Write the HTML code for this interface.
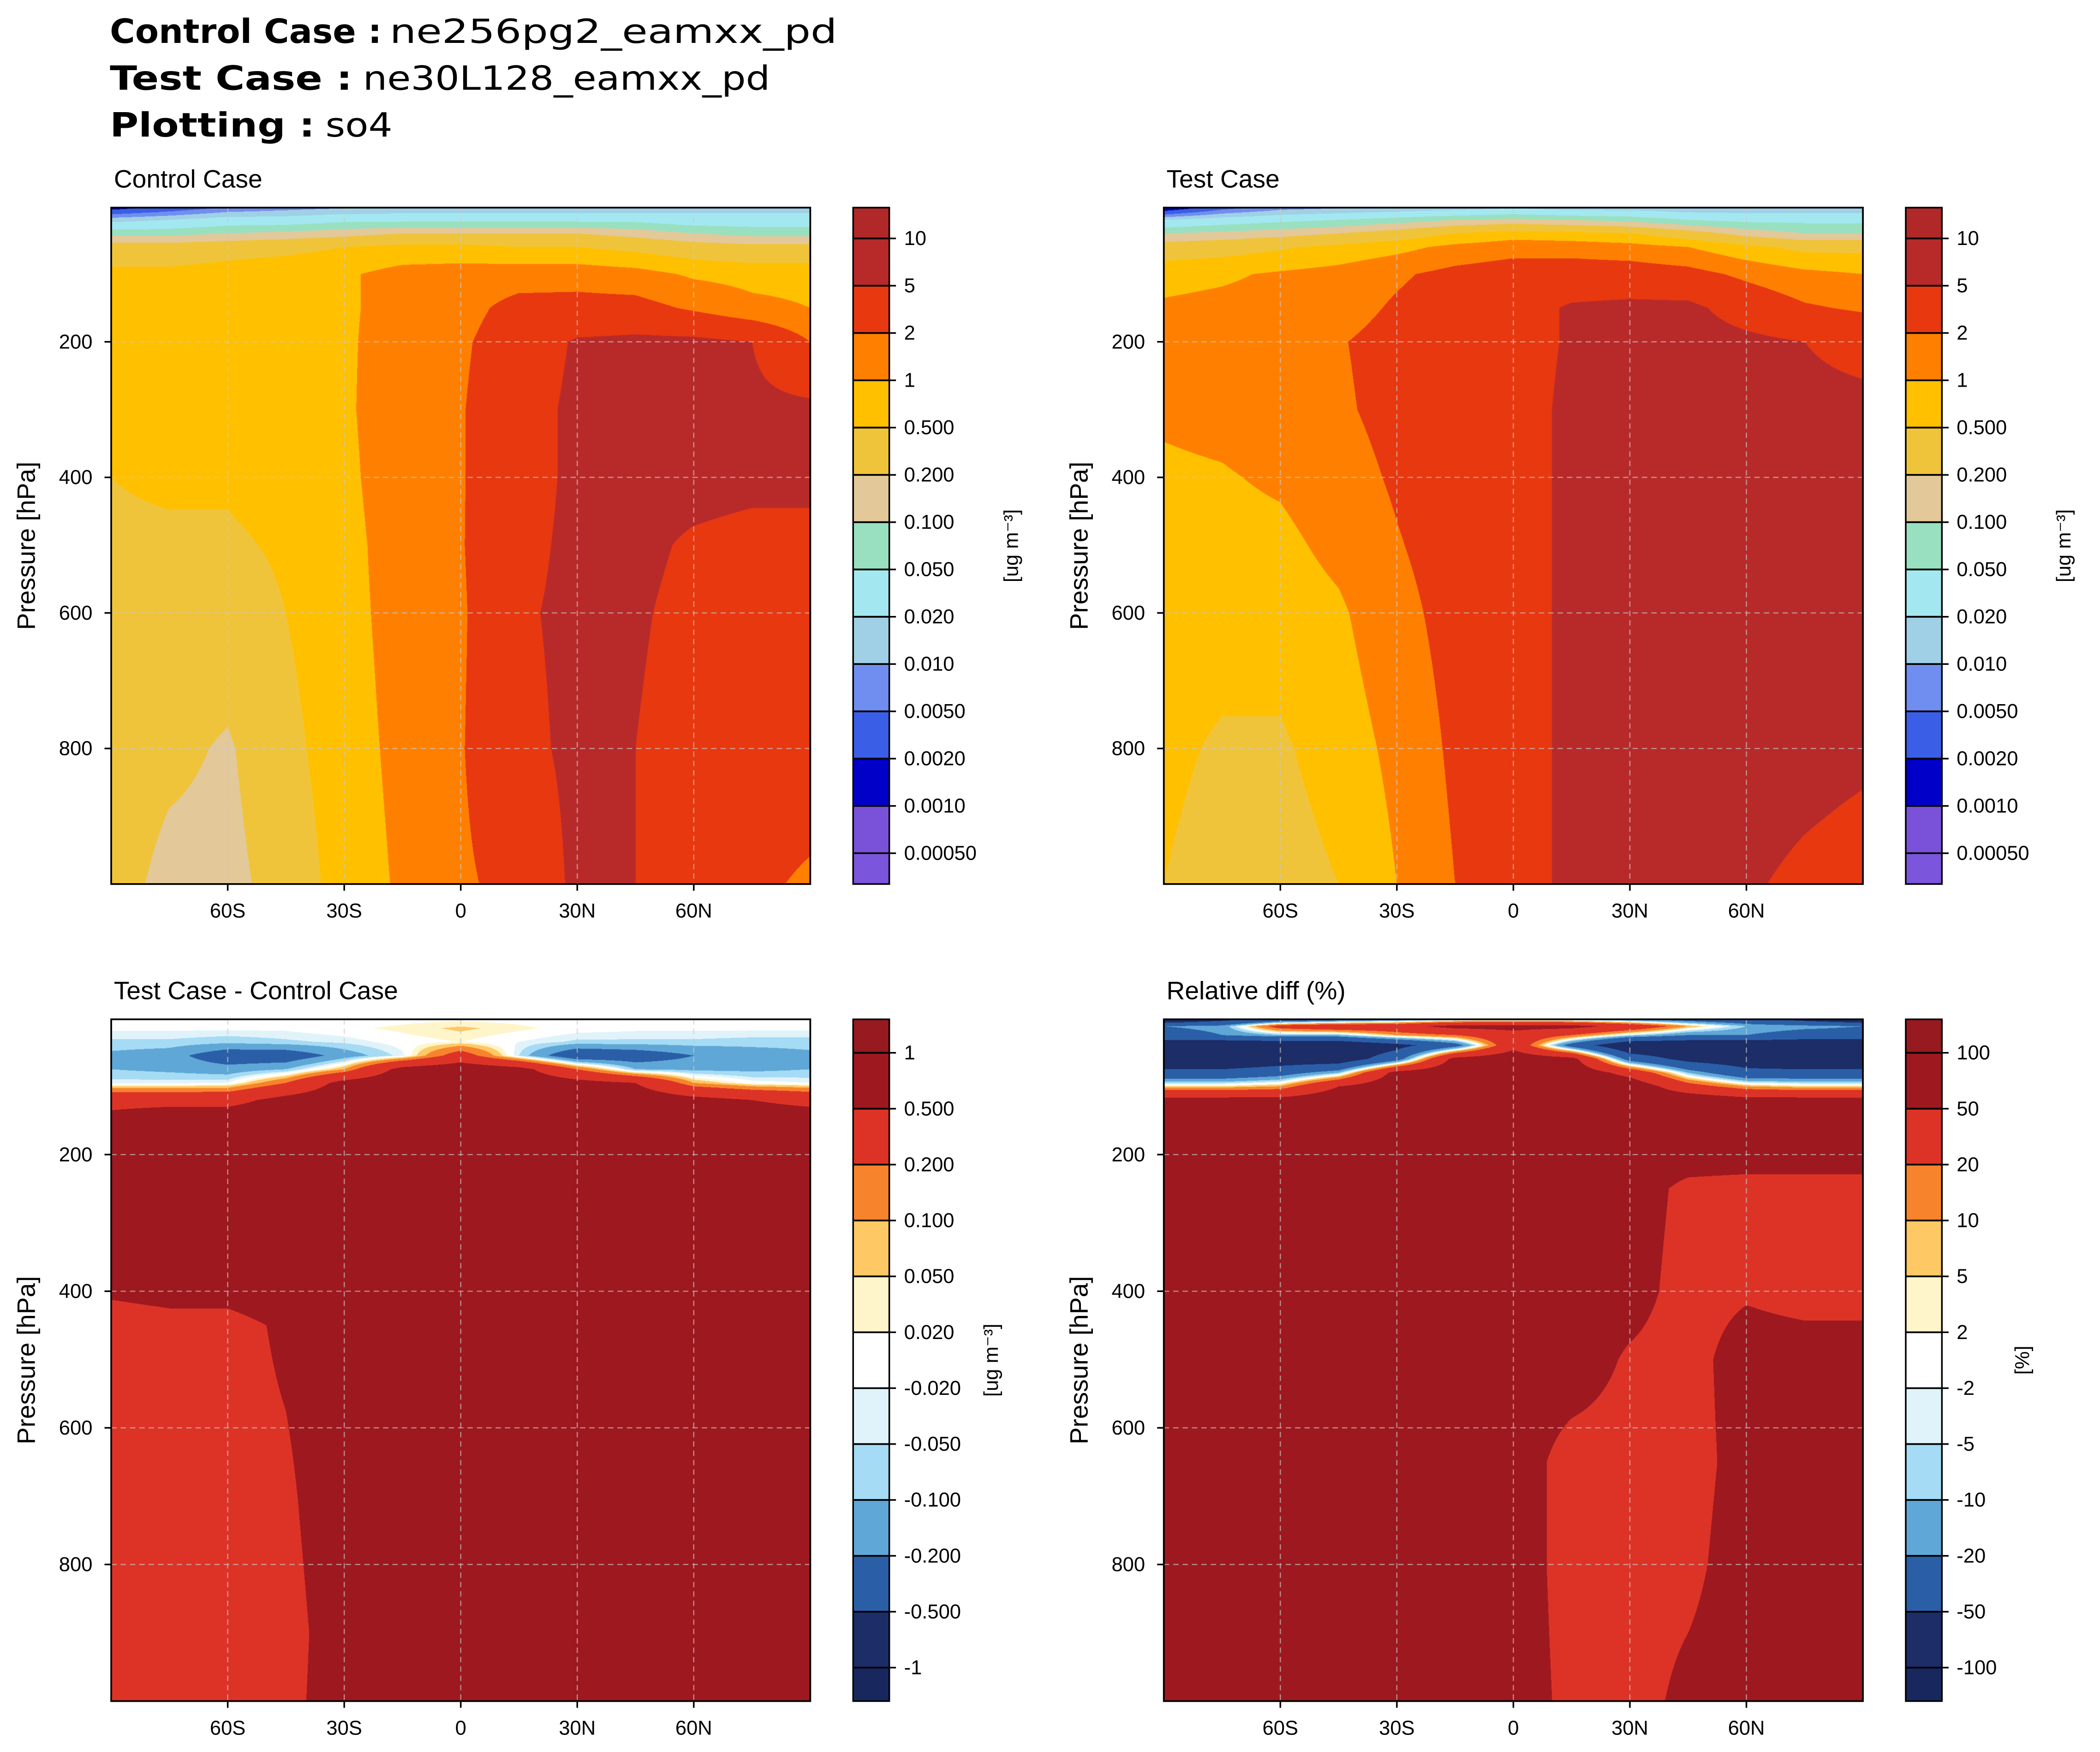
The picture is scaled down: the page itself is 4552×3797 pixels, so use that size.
<!DOCTYPE html>
<html><head><meta charset="utf-8">
<style>
html,body{margin:0;padding:0;background:#fff;}
#wrap{position:relative;width:4552px;height:3797px;overflow:hidden;}
#fld{position:absolute;left:0;top:0;}
#ov{position:absolute;left:0;top:0;}
text{font-family:"Liberation Sans",sans-serif;fill:#000;}
.tt{font-family:"DejaVu Sans","Liberation Sans",sans-serif;}
</style></head>
<body>
<div id="wrap">
<canvas id="fld" width="4552" height="3797"></canvas>
<svg id="ov" width="4552" height="3797" viewBox="0 0 1568 1308">
  <g class="tt">
    <text class="tt" x="82" y="32" font-size="25" font-weight="bold" textLength="203" lengthAdjust="spacingAndGlyphs">Control Case :</text>
    <text class="tt" x="291" y="32" font-size="25" textLength="334" lengthAdjust="spacingAndGlyphs">ne256pg2_eamxx_pd</text>
    <text class="tt" x="82" y="67" font-size="25" font-weight="bold" textLength="181" lengthAdjust="spacingAndGlyphs">Test Case :</text>
    <text class="tt" x="271" y="67" font-size="25" textLength="304" lengthAdjust="spacingAndGlyphs">ne30L128_eamxx_pd</text>
    <text class="tt" x="82" y="102" font-size="25" font-weight="bold" textLength="153" lengthAdjust="spacingAndGlyphs">Plotting :</text>
    <text class="tt" x="243" y="102" font-size="25" textLength="50" lengthAdjust="spacingAndGlyphs">so4</text>
  </g>
  <g id="axes"></g>
</svg>
</div>
<script>
// ---------- data ----------
const lats = [-90,-75,-60,-45,-30,-15,0,15,30,45,60,75,90];
const xTickVals = [-60,-30,0,30,60];
const xTickLabels = ["60S","30S","0","30N","60N"];
const yTickVals = [200,400,600,800];

const ctrlP = [3,20,40,60,100,150,200,300,400,500,600,800,1000];
const ctrlVals = [
 [0.0015,0.003,0.006,0.008,0.01,0.012,0.012,0.012,0.012,0.012,0.015,0.015,0.015],
 [0.015,0.02,0.03,0.03,0.04,0.04,0.04,0.04,0.04,0.04,0.03,0.03,0.03],
 [0.08,0.08,0.1,0.12,0.15,0.2,0.2,0.2,0.2,0.15,0.1,0.08,0.08],
 [0.3,0.3,0.35,0.4,0.5,0.6,0.6,0.5,0.5,0.4,0.3,0.25,0.25],
 [0.6,0.6,0.7,0.8,0.9,1.3,1.4,1.5,1.5,1.3,0.9,0.8,0.8],
 [0.6,0.65,0.7,0.75,0.9,1.3,1.6,2.5,2.6,2.6,1.8,1.2,1.0],
 [0.6,0.6,0.7,0.8,0.9,1.4,1.8,3,5.5,6,6,5,2],
 [0.6,0.6,0.65,0.7,0.9,1.5,1.9,3.5,6,6.5,6.5,6,6],
 [0.5,0.55,0.55,0.65,0.85,1.5,1.9,3.5,6,6.5,6.5,6,6],
 [0.45,0.45,0.45,0.55,0.8,1.4,1.9,4,6,6,4.5,4,4],
 [0.4,0.35,0.35,0.5,0.8,1.3,1.8,4.5,6,5.5,4,3.5,3.5],
 [0.35,0.25,0.18,0.4,0.75,1.2,1.9,4,6,5,3.5,3,3],
 [0.3,0.15,0.15,0.3,0.7,1.1,1.8,2.5,6,5,3,2.3,1.8]];

const testP = [3,20,40,60,100,150,200,300,400,500,600,800,1000];
const testVals = [
 [0.001,0.004,0.008,0.01,0.012,0.015,0.02,0.015,0.015,0.012,0.012,0.012,0.012],
 [0.02,0.03,0.04,0.05,0.07,0.1,0.12,0.1,0.08,0.05,0.04,0.04,0.04],
 [0.1,0.12,0.15,0.2,0.3,0.5,0.7,0.6,0.5,0.3,0.15,0.1,0.1],
 [0.3,0.35,0.45,0.6,0.8,1.2,1.5,1.5,1.3,1.0,0.6,0.4,0.4],
 [0.8,0.9,1.1,1.3,1.8,2.5,3,3,3,2.6,1.7,1.2,1.0],
 [1.1,1.2,1.3,1.5,2.2,3,3.5,5.5,6,6,3.5,2.2,1.8],
 [1.2,1.3,1.5,1.9,2.6,3.2,3.5,5.5,6.5,7,6,5,4],
 [1.1,1.2,1.4,1.8,2.5,3.2,3.5,6,7,7,6.5,6,6],
 [0.9,0.95,1.1,1.5,2.2,3,3.5,6,7,7,6.5,6,6],
 [0.8,0.8,0.85,1.2,1.9,2.8,3.5,6,7,7,6.5,6,6],
 [0.7,0.7,0.7,0.9,1.6,2.6,3.5,6,7,7,6.5,6,6],
 [0.6,0.45,0.45,0.7,1.2,2.3,3.5,6,7,7,6.5,6,5.5],
 [0.5,0.35,0.35,0.5,1.0,2,3.5,6,7,6.5,5.3,4.5,4]];

const diffP = [2,15,35,55,75,95,120,150,400,450,700,900,1000];
const diffVals = [
 [0,0,0,0,0,0.005,0.01,0.005,0,0,0,0,0],
 [-0.01,-0.01,-0.01,-0.01,0.01,0.03,0.06,0.03,0,-0.01,-0.01,-0.01,-0.01],
 [-0.06,-0.06,-0.08,-0.06,-0.04,0.0,0.02,-0.02,-0.06,-0.06,-0.06,-0.07,-0.07],
 [-0.12,-0.15,-0.3,-0.3,-0.15,-0.03,0.3,-0.05,-0.35,-0.3,-0.2,-0.15,-0.12],
 [-0.1,-0.12,-0.15,-0.1,0.1,0.6,0.7,0.6,0.2,-0.1,-0.12,-0.12,-0.1],
 [-0.03,-0.03,-0.02,0.2,0.6,0.7,0.7,0.7,0.6,0.5,0.1,0,-0.02],
 [0.4,0.4,0.4,0.6,0.7,0.7,0.7,0.7,0.7,0.7,0.6,0.5,0.4],
 [0.6,0.7,0.7,0.7,0.7,0.7,0.7,0.7,0.7,0.7,0.7,0.7,0.7],
 [0.55,0.6,0.6,0.7,0.7,0.7,0.7,0.7,0.7,0.7,0.7,0.7,0.7],
 [0.35,0.4,0.4,0.55,0.7,0.7,0.7,0.7,0.7,0.7,0.7,0.7,0.7],
 [0.35,0.35,0.4,0.45,0.7,0.7,0.7,0.7,0.7,0.7,0.7,0.7,0.7],
 [0.35,0.35,0.35,0.4,0.65,0.7,0.7,0.7,0.7,0.7,0.7,0.7,0.7],
 [0.35,0.35,0.35,0.42,0.65,0.7,0.7,0.7,0.7,0.7,0.7,0.7,0.7]];

const relP = [2,12,25,40,60,80,100,120,200,250,400,500,650,800,1000];
const relVals = [
 [-80,-60,-40,-30,-20,-10,-5,-10,-20,-30,-40,-60,-80],
 [-20,-15,30,40,40,60,60,60,40,10,-10,-15,-20],
 [-30,-20,-10,-10,10,20,40,20,-5,-20,-20,-30,-30],
 [-70,-80,-80,-80,-60,-30,40,-30,-80,-80,-80,-80,-80],
 [-80,-80,-70,-70,-30,60,70,60,-30,-60,-70,-80,-80],
 [-40,-40,-30,-10,60,70,70,70,40,-10,-40,-40,-40],
 [5,5,10,50,70,70,70,70,70,30,10,5,5],
 [60,60,60,70,70,70,70,70,70,70,60,60,60],
 [70,70,70,70,70,70,70,70,70,70,70,70,70],
 [70,70,70,70,70,70,70,70,70,40,35,35,35],
 [70,70,70,70,70,70,70,70,65,35,45,35,35],
 [70,70,70,70,70,70,70,70,45,35,70,70,70],
 [70,70,70,70,70,70,70,35,35,35,65,70,70],
 [70,70,70,70,70,70,70,35,35,40,70,70,70],
 [70,70,70,70,70,70,70,40,35,60,70,70,70]];

const concLevels = [0.0005,0.001,0.002,0.005,0.01,0.02,0.05,0.1,0.2,0.5,1,2,5,10];
const concLabels = ["0.00050","0.0010","0.0020","0.0050","0.010","0.020","0.050","0.100","0.200","0.500","1","2","5","10"];
const concColors = ["#7b55dc","#7a52d9","#0000c8","#3a5ee6","#6f8ef0","#a0d0e6","#a3e8f0","#98e0c0","#e3c89a","#f0c43a","#ffc000","#ff8000","#e83810","#b82a2a","#b02828"];
const diffLevels = [-1,-0.5,-0.2,-0.1,-0.05,-0.02,0.02,0.05,0.1,0.2,0.5,1];
const diffLabels = ["-1","-0.500","-0.200","-0.100","-0.050","-0.020","0.020","0.050","0.100","0.200","0.500","1"];
const relLevels = [-100,-50,-20,-10,-5,-2,2,5,10,20,50,100];
const relLabels = ["-100","-50","-20","-10","-5","-2","2","5","10","20","50","100"];
const divColors = ["#18285f","#1c2d68","#2a5fa8","#5fa7d7","#a5dbf4","#e1f3fa","#ffffff","#fff5ca","#fec864","#f7842c","#dd3327","#9e1820","#961a1f"];

// ---------- layout ----------
const S = 4552/1568;
const PMIN = 2, PMAX = 1000;
const panels = [
 {name:"control-case",title:"Control Case",x0:83,x1:605,y0:155,y1:660,cb:637,P:ctrlP,V:ctrlVals,log:true,lev:concLevels,lab:concLabels,col:concColors,unit:"[ug m\u207B\u00B3]",ux:760,e0:23},
 {name:"test-case",title:"Test Case",x0:869,x1:1391,y0:155,y1:660,cb:1423,P:testP,V:testVals,log:true,lev:concLevels,lab:concLabels,col:concColors,unit:"[ug m\u207B\u00B3]",ux:1546,e0:23},
 {name:"difference",title:"Test Case - Control Case",x0:83,x1:605,y0:761,y1:1270,cb:637,P:diffP,V:diffVals,log:false,lev:diffLevels,lab:diffLabels,col:divColors,unit:"[ug m\u207B\u00B3]",ux:745,e0:25},
 {name:"relative-diff",title:"Relative diff (%)",x0:869,x1:1391,y0:761,y1:1270,cb:1423,P:relP,V:relVals,log:false,lev:relLevels,lab:relLabels,col:divColors,unit:"[%]",ux:1515,e0:25}
];
function xOf(lat,P){return P.x0+(lat+90)/180*(P.x1-P.x0);}
function yOf(p,P){return P.y0+(p-PMIN)/(PMAX-PMIN)*(P.y1-P.y0);}
function hex(c){return [parseInt(c.substr(1,2),16),parseInt(c.substr(3,2),16),parseInt(c.substr(5,2),16)];}

// ---------- fields ----------
const ctx = document.getElementById('fld').getContext('2d');
function findIdx(arr,v){let i=0;while(i<arr.length-2&&v>arr[i+1])i++;return i;}
panels.forEach(P=>{
  const X0=Math.round(P.x0*S),X1=Math.round(P.x1*S),Y0=Math.round(P.y0*S),Y1=Math.round(P.y1*S);
  const w=X1-X0,h=Y1-Y0;
  const img=ctx.createImageData(w,h);
  const rgb=P.col.map(hex);
  const T=P.log?P.lev.map(Math.log10):P.lev;
  const G=P.V.map(r=>r.map(v=>P.log?Math.log10(v):v));
  const latI=[],latF=[];
  for(let i=0;i<w;i++){const lat=-90+((X0+i+0.5)/S-P.x0)/(P.x1-P.x0)*180;const k=findIdx(lats,lat);latI.push(k);latF.push(Math.min(1,Math.max(0,(lat-lats[k])/(lats[k+1]-lats[k]))));}
  for(let j=0;j<h;j++){
    const p=PMIN+((Y0+j+0.5)/S-P.y0)/(P.y1-P.y0)*(PMAX-PMIN);
    const r=findIdx(P.P,p);const f=Math.min(1,Math.max(0,(p-P.P[r])/(P.P[r+1]-P.P[r])));
    const A=G[r],B=G[r+1];
    for(let i=0;i<w;i++){
      const k=latI[i],g=latF[i];
      const v=(A[k]*(1-g)+A[k+1]*g)*(1-f)+(B[k]*(1-g)+B[k+1]*g)*f;
      let b=0;while(b<T.length&&v>=T[b])b++;
      const c=rgb[b],o=(j*w+i)*4;
      img.data[o]=c[0];img.data[o+1]=c[1];img.data[o+2]=c[2];img.data[o+3]=255;
    }
  }
  ctx.putImageData(img,X0,Y0);
});

// ---------- axes ----------
const NS="http://www.w3.org/2000/svg";
const root=document.getElementById('axes');
function el(tag,attrs,parent,txt){const e=document.createElementNS(NS,tag);for(const k in attrs)e.setAttribute(k,attrs[k]);if(txt!==undefined)e.textContent=txt;parent.appendChild(e);return e;}
panels.forEach(P=>{
  const g=el('g',{},root);
  
  
  xTickVals.forEach(v=>{const x=xOf(v,P);const l=el('line',{x1:x,x2:x,y1:P.y0,y2:P.y1,stroke:'#c8c8c8','stroke-width':0.8,'stroke-dasharray':'4,3',opacity:0.7},g);
    
    });
  yTickVals.forEach(v=>{const y=yOf(v,P);const l=el('line',{x1:P.x0,x2:P.x1,y1:y,y2:y,stroke:'#c8c8c8','stroke-width':0.8,'stroke-dasharray':'4,3',opacity:0.7},g);
    
    });
  const fr=el('rect',{x:P.x0,y:P.y0,width:P.x1-P.x0,height:P.y1-P.y0,fill:'none',stroke:'#000','stroke-width':1.3},g);
  
  
  xTickVals.forEach((v,i)=>{const x=xOf(v,P);el('line',{x1:x,x2:x,y1:P.y1,y2:P.y1+5,stroke:'#000','stroke-width':1.2},g);
    const t=el('text',{x:x,y:P.y1+25,'font-size':15,'text-anchor':'middle'},g,xTickLabels[i]);
    
    });
  yTickVals.forEach(v=>{const y=yOf(v,P);el('line',{x1:P.x0-5,x2:P.x0,y1:y,y2:y,stroke:'#000','stroke-width':1.2},g);
    const t=el('text',{x:P.x0-14,y:y+5,'font-size':15,'text-anchor':'end'},g,String(v));
    
    });
  const yl=el('text',{x:0,y:0,'font-size':19,'text-anchor':'middle',transform:`translate(${P.x0-57},${(P.y0+P.y1)/2}) rotate(-90)`},g,'Pressure [hPa]');
  
  
  const tt=el('text',{x:P.x0+2,y:P.y0-15,'font-size':19},g,P.title);
  
  
  const cbg=el('g',{},g);
  
  
  const n=P.lev.length, top=P.y0+P.e0, bot=P.y1-P.e0, step=(bot-top)/(n-1);
  const ly=i=>bot-i*step;
  for(let b=0;b<=n;b++){
    const yb=b===0?P.y1:ly(b-1), yt=b===n?P.y0:ly(b);
    const r=el('rect',{x:P.cb,y:yt,width:27,height:yb-yt+0.3,fill:P.col[b]},cbg);
    
    
  }
  for(let i=0;i<n;i++){const y=ly(i);
    el('line',{x1:P.cb,x2:P.cb+27,y1:y,y2:y,stroke:'#000','stroke-width':1.3},cbg);
    el('line',{x1:P.cb+27,x2:P.cb+32,y1:y,y2:y,stroke:'#000','stroke-width':1.2},cbg);
    const t=el('text',{x:P.cb+38,y:y+5,'font-size':15},cbg,P.lab[i]);
    
    }
  el('rect',{x:P.cb,y:P.y0,width:27,height:P.y1-P.y0,fill:'none',stroke:'#000','stroke-width':1.2},cbg);
  const u=el('text',{x:0,y:0,'font-size':15,'text-anchor':'middle',transform:`translate(${P.ux},${(P.y0+P.y1)/2}) rotate(-90)`},cbg,P.unit);
  
  
});
</script>
</body></html>
